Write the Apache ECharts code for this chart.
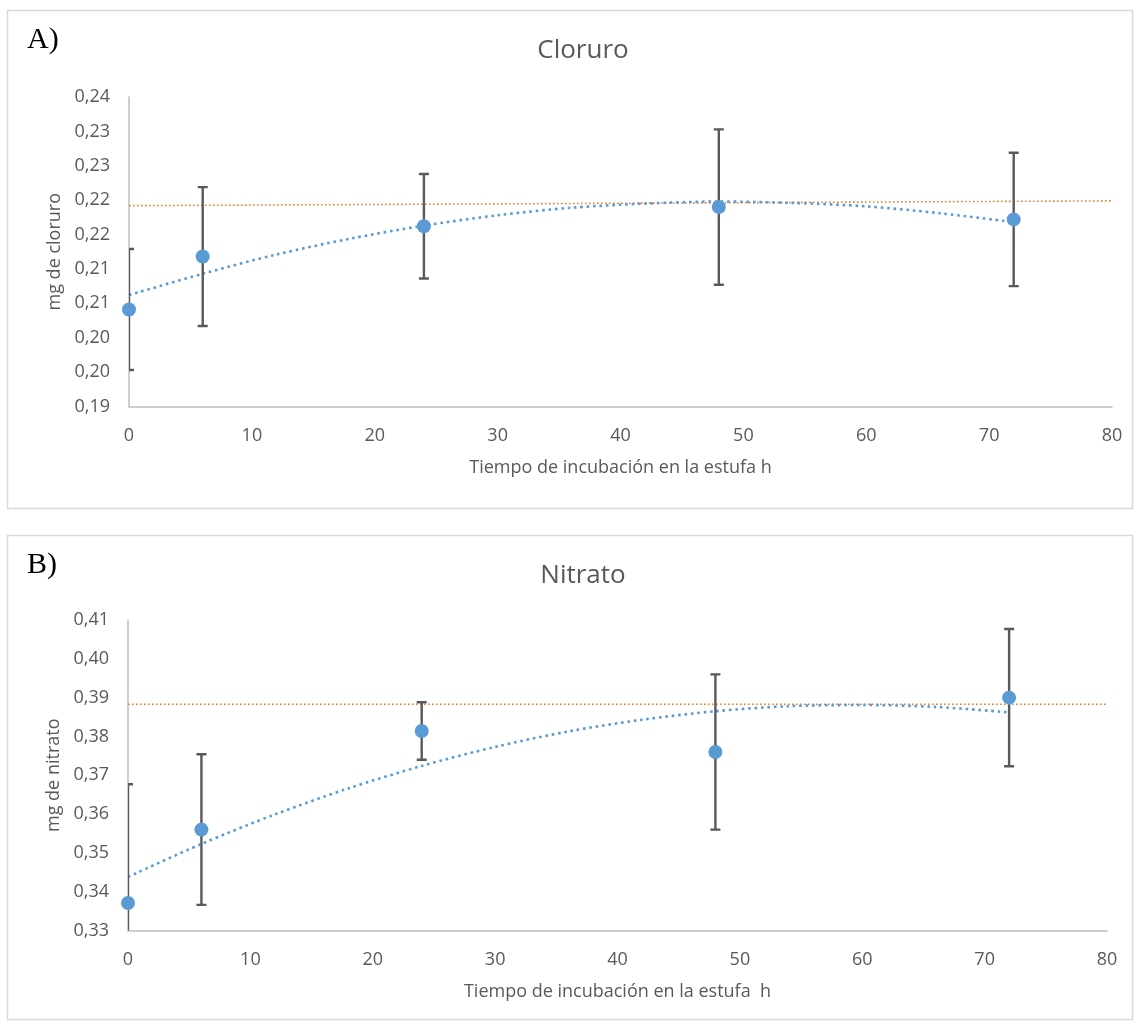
<!DOCTYPE html>
<html>
<head>
<meta charset="utf-8">
<title>Cloruro y Nitrato</title>
<script src="https://cdn.jsdelivr.net/npm/echarts@6/dist/echarts.min.js"></script>
<style>
  html, body { margin: 0; padding: 0; background: #ffffff; }
  #chart { width: 1139px; height: 1026px; }
</style>
</head>
<body>
<div id="chart"></div>
<script>
// Tiempo de incubación (h)
const horas = [0, 6, 24, 48, 72];

// Cloruro: media y desviación (mg)
const cloruroMedia = [0.2041, 0.2118, 0.2162, 0.2190, 0.2172];
const cloruroDesv  = [0.0088, 0.0101, 0.0076, 0.0113, 0.0097];
const tendX = [0, 6, 12, 18, 24, 30, 36, 42, 48, 54, 60, 66, 72];
const cloruroTend = [0.2062, 0.2093, 0.2121, 0.2144, 0.2163, 0.2178, 0.2189,
                     0.2195, 0.2198, 0.2196, 0.2191, 0.2181, 0.2168];
// Valor de referencia
const cloruroRefX = [0, 80];
const cloruroRef  = [0.2192, 0.2199];
const cloruroTicks = ['0,19', '0,20', '0,20', '0,21', '0,21', '0,22', '0,22', '0,23', '0,23', '0,24'];

// Nitrato: media y desviación (mg)
const nitratoMedia = [0.3371, 0.3560, 0.3814, 0.3760, 0.3900];
const nitratoDesv  = [0.0306, 0.0194, 0.0074, 0.0200, 0.0177];
const nitratoTend = [0.3438, 0.3523, 0.3599, 0.3666, 0.3724, 0.3773, 0.3813,
                     0.3843, 0.3865, 0.3878, 0.3881, 0.3876, 0.3862];
const nitratoRefX = [0, 80];
const nitratoRef  = [0.3883, 0.3883];
const nitratoTicks = ['0,33', '0,34', '0,35', '0,36', '0,37', '0,38', '0,39', '0,40', '0,41'];

const xTicks = ['0', '10', '20', '30', '40', '50', '60', '70', '80'];

const FONT = '"Open Sans", "Noto Sans", sans-serif';
const GRAY = '#595959';
const AXIS = '#BFBFBF';
const BLUE = '#5B9BD5';
const ORANGE = '#ED7D31';

function pairs(xs, ys) { return xs.map((x, i) => [x, ys[i]]); }
function bars(xs, m, d) { return xs.map((x, i) => [x, m[i] - d[i], m[i] + d[i]]); }

function xAxisCfg(gridIndex) {
  return {
    gridIndex, type: 'value', min: 0, max: 80, interval: 10,
    name: gridIndex === 0 ? 'Tiempo de incubación en la estufa h' : 'Tiempo de incubación en la estufa  h',
    nameLocation: 'middle', nameGap: 52,
    nameTextStyle: { color: GRAY, fontSize: 18, fontFamily: FONT },
    axisLine: { show: true, lineStyle: { color: AXIS, width: 1.5 } },
    axisTick: { show: false },
    splitLine: { show: false },
    axisLabel: {
      color: GRAY, fontSize: 18, fontFamily: FONT, margin: 20,
      formatter: v => xTicks[Math.round(v / 10)]
    }
  };
}

function yAxisCfg(gridIndex, min, max, interval, ticks, name) {
  return {
    gridIndex, type: 'value', min, max, interval,
    name, nameLocation: 'middle', nameGap: 63,
    nameTextStyle: { color: GRAY, fontSize: 18, fontFamily: FONT },
    axisLine: { show: true, lineStyle: { color: AXIS, width: 1.5 } },
    axisTick: { show: false },
    splitLine: { show: false },
    axisLabel: {
      color: GRAY, fontSize: 18, fontFamily: FONT, margin: 19,
      formatter: v => ticks[Math.round((v - min) / interval)]
    }
  };
}

function errorSeries(idx, data) {
  return {
    type: 'custom', xAxisIndex: idx, yAxisIndex: idx, clip: true, z: 3,
    data,
    renderItem(params, api) {
      const x = api.value(0);
      const lo = api.coord([x, api.value(1)]);
      const hi = api.coord([x, api.value(2)]);
      const cap = 5;
      const style = { stroke: GRAY, lineWidth: 2.4, fill: null };
      return {
        type: 'group',
        children: [
          { type: 'line', shape: { x1: hi[0], y1: hi[1], x2: lo[0], y2: lo[1] }, style },
          { type: 'line', shape: { x1: hi[0] - cap, y1: hi[1], x2: hi[0] + cap, y2: hi[1] }, style },
          { type: 'line', shape: { x1: lo[0] - cap, y1: lo[1], x2: lo[0] + cap, y2: lo[1] }, style }
        ]
      };
    }
  };
}

function trendSeries(idx, data) {
  return {
    type: 'line', xAxisIndex: idx, yAxisIndex: idx, data, smooth: 0.3,
    showSymbol: false, z: 2, silent: true,
    lineStyle: { color: BLUE, width: 2.6, type: [2.6, 3.8], cap: 'butt' }
  };
}

function refSeries(idx, data) {
  return {
    type: 'line', xAxisIndex: idx, yAxisIndex: idx, data,
    showSymbol: false, z: 1, silent: true,
    lineStyle: { color: ORANGE, width: 1.6, type: [1.6, 2.4], cap: 'butt' }
  };
}

function pointSeries(idx, data) {
  return {
    type: 'scatter', xAxisIndex: idx, yAxisIndex: idx, data,
    symbol: 'circle', symbolSize: 14, z: 4,
    itemStyle: { color: BLUE, opacity: 1 }
  };
}

const chart = echarts.init(document.getElementById('chart'), null, { renderer: 'canvas' });

chart.setOption({
  animation: false,
  backgroundColor: '#ffffff',
  title: [
    { text: 'Cloruro', left: 578, top: 33, textAlign: 'center',
      textStyle: { color: GRAY, fontSize: 26, fontWeight: 'normal', fontFamily: FONT } },
    { text: 'Nitrato', left: 578, top: 558, textAlign: 'center',
      textStyle: { color: GRAY, fontSize: 26, fontWeight: 'normal', fontFamily: FONT } }
  ],
  graphic: [
    { type: 'rect', shape: { x: 7.5, y: 10.5, width: 1125, height: 498 },
      style: { fill: null, stroke: '#D9D9D9', lineWidth: 1.5 }, silent: true },
    { type: 'rect', shape: { x: 7.5, y: 535.5, width: 1125, height: 484 },
      style: { fill: null, stroke: '#D9D9D9', lineWidth: 1.5 }, silent: true },
    { type: 'text', left: 27, top: 25,
      style: { text: 'A)', fill: '#000000', fontSize: 30, fontFamily: '"Liberation Serif", "DejaVu Serif", serif' } },
    { type: 'text', left: 27, top: 550,
      style: { text: 'B)', fill: '#000000', fontSize: 30, fontFamily: '"Liberation Serif", "DejaVu Serif", serif' } }
  ],
  grid: [
    { left: 129, top: 97, width: 983, height: 309.5 },
    { left: 128, top: 620, width: 979, height: 310.5 }
  ],
  xAxis: [xAxisCfg(0), xAxisCfg(1)],
  yAxis: [
    yAxisCfg(0, 0.19, 0.235, 0.005, cloruroTicks, 'mg de cloruro'),
    yAxisCfg(1, 0.33, 0.41, 0.01, nitratoTicks, 'mg de nitrato')
  ],
  series: [
    refSeries(0, pairs(cloruroRefX, cloruroRef)),
    trendSeries(0, pairs(tendX, cloruroTend)),
    errorSeries(0, bars(horas, cloruroMedia, cloruroDesv)),
    pointSeries(0, pairs(horas, cloruroMedia)),
    refSeries(1, pairs(nitratoRefX, nitratoRef)),
    trendSeries(1, pairs(tendX, nitratoTend)),
    errorSeries(1, bars(horas, nitratoMedia, nitratoDesv)),
    pointSeries(1, pairs(horas, nitratoMedia))
  ]
});
</script>
</body>
</html>
